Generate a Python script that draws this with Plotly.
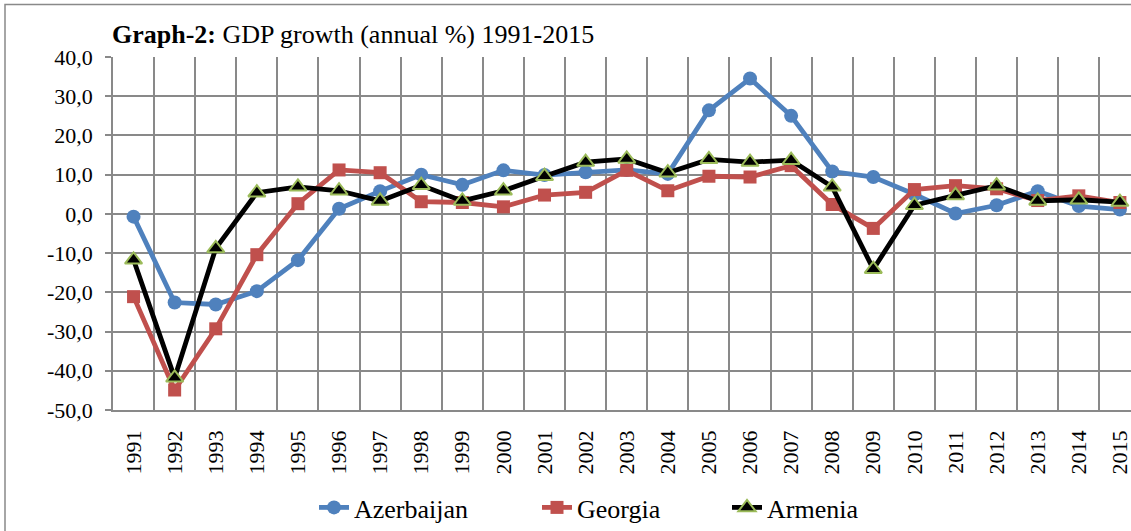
import plotly.graph_objects as go

years = [str(y) for y in range(1991, 2016)]

azerbaijan = [-0.7, -22.6, -23.1, -19.7, -11.8, 1.3, 5.8, 10.0, 7.4, 11.1, 9.9, 10.6, 11.2,
              10.2, 26.4, 34.5, 25.0, 10.8, 9.4, 5.0, 0.1, 2.2, 5.8, 2.0, 1.1]
georgia = [-21.1, -44.9, -29.3, -10.4, 2.6, 11.2, 10.5, 3.1, 2.9, 1.8, 4.8, 5.5, 11.1,
           5.9, 9.6, 9.4, 12.3, 2.4, -3.7, 6.2, 7.2, 6.4, 3.4, 4.6, 2.9]
armenia = [-11.7, -41.8, -8.8, 5.4, 6.9, 5.9, 3.3, 7.3, 3.3, 5.9, 9.6, 13.2, 14.0,
           10.5, 13.9, 13.2, 13.7, 6.9, -14.1, 2.2, 4.7, 7.2, 3.3, 3.6, 3.0]

y_tick_vals = [40, 30, 20, 10, 0, -10, -20, -30, -40, -50]
y_tick_text = ["40,0", "30,0", "20,0", "10,0", "0,0", "-10,0", "-20,0", "-30,0", "-40,0", "-50,0"]

FONT = "Liberation Serif, Times New Roman, serif"
GRID = "#898989"

fig = go.Figure()
fig.add_trace(go.Scatter(
    x=years, y=azerbaijan, name="Azerbaijan", mode="lines+markers",
    line=dict(color="#4F81BD", width=4.8),
    marker=dict(symbol="circle", size=14, color="#4F81BD"),
    legend="legend"))
fig.add_trace(go.Scatter(
    x=years, y=georgia, name="Georgia", mode="lines+markers",
    line=dict(color="#C0504D", width=4.8),
    marker=dict(symbol="square", size=13, color="#C0504D"),
    legend="legend2"))
fig.add_trace(go.Scatter(
    x=years, y=armenia, name="Armenia", mode="lines+markers",
    line=dict(color="#000000", width=4.8),
    marker=dict(symbol="triangle-up", size=15, color="#000000",
                line=dict(color="#9BBB59", width=2)),
    legend="legend3"))

leg_common = dict(orientation="h", xanchor="left", yanchor="middle", y=-0.277,
                  font=dict(family=FONT, size=26, color="#000000"),
                  bgcolor="rgba(0,0,0,0)", itemclick=False)

fig.update_layout(
    width=1131, height=531,
    margin=dict(l=113, r=0, t=57, b=117),
    paper_bgcolor="white", plot_bgcolor="white",
    font=dict(family=FONT, color="#000000"),
    showlegend=True,
    legend=dict(x=(314 - 113) / 1018, **leg_common),
    legend2=dict(x=(537 - 113) / 1018, **leg_common),
    legend3=dict(x=(727 - 113) / 1018, **leg_common),
    xaxis=dict(
        type="category", range=[-0.5, 24.27], tickson="boundaries",
        showgrid=True, gridcolor=GRID, gridwidth=1.5,
        showline=True, linecolor=GRID, linewidth=1.5,
        ticks="", tickangle=-90, ticklabelstandoff=10,
        tickfont=dict(family=FONT, size=22, color="#000000"),
    ),
    yaxis=dict(
        range=[-50, 40], tickvals=y_tick_vals, ticktext=y_tick_text,
        showgrid=True, gridcolor=GRID, gridwidth=1.5, zeroline=False,
        showline=True, linecolor=GRID, linewidth=1.5,
        ticks="outside", ticklen=6, tickcolor=GRID, tickwidth=1.5,
        ticklabelstandoff=8,
        tickfont=dict(family=FONT, size=22, color="#000000"),
    ),
    shapes=[dict(type="rect", xref="paper", yref="paper",
                 x0=(5 - 113) / 1018, x1=1.2, y0=-0.6, y1=(414 - 4) / 357,
                 line=dict(color=GRID, width=1.5), fillcolor="rgba(0,0,0,0)", layer="below")],
    annotations=[dict(
        xref="paper", yref="paper", x=(110 - 113) / 1018, y=(414 - 34) / 357,
        xanchor="left", yanchor="middle", showarrow=False,
        text="<b>Graph-2:</b> GDP growth (annual %) 1991-2015",
        font=dict(family=FONT, size=26, color="#000000"))],
)

fig.write_html("out.html", config={"displayModeBar": False},
               post_script="document.body.style.margin='0';")
